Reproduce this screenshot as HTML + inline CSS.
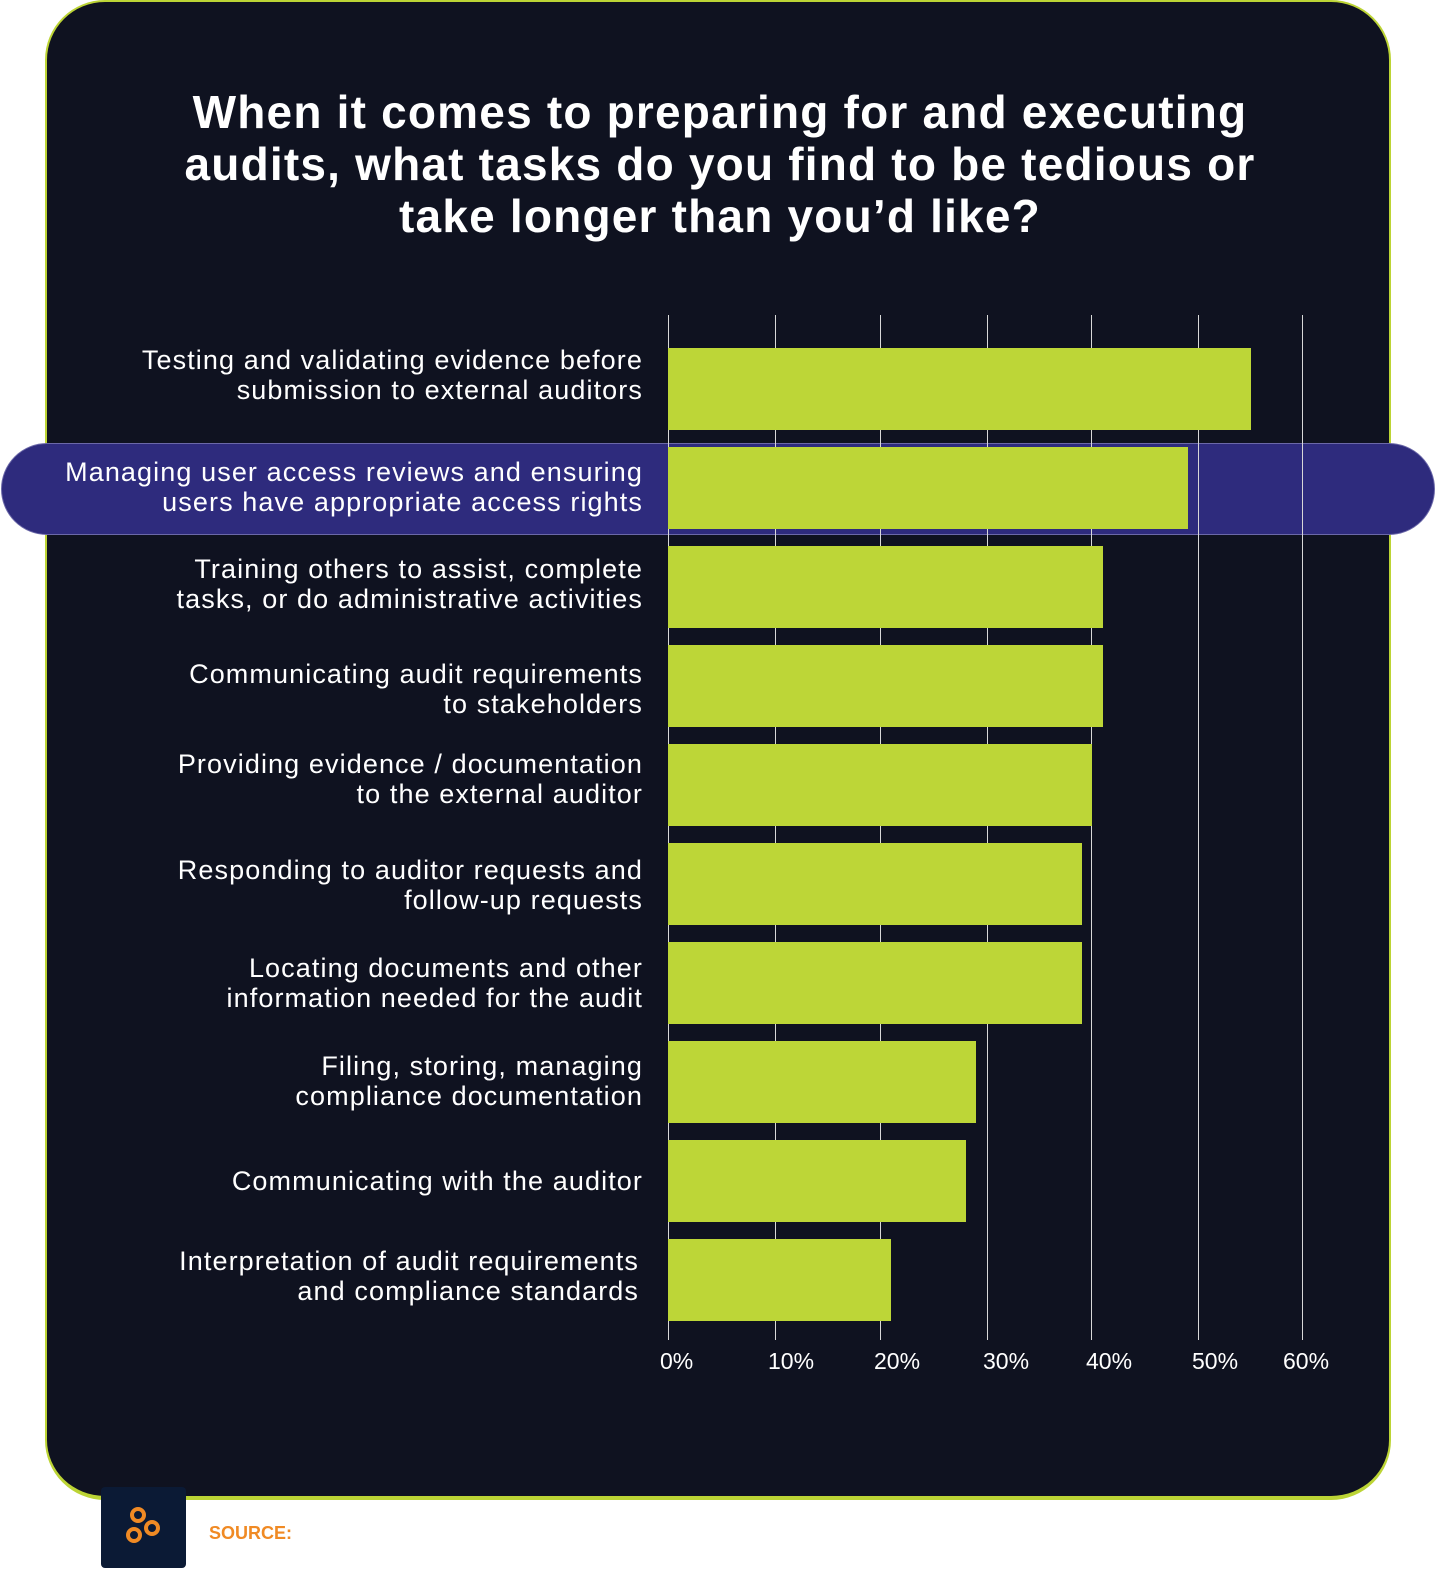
<!DOCTYPE html>
<html><head><meta charset="utf-8"><style>
*{margin:0;padding:0;box-sizing:border-box}
body{width:1440px;height:1573px;background:#fff;position:relative;overflow:hidden;font-family:"Liberation Sans",sans-serif}
.card{position:absolute;left:45px;top:0;width:1346px;height:1500px;background:#0f1220;border:2px solid #bcd435;border-bottom-width:4px;border-radius:60px}
.title{position:absolute;left:0;width:1440px;top:86px;text-align:center;color:#fff;font-weight:bold;font-size:46px;letter-spacing:1.2px;line-height:52px}
.band{position:absolute;left:1px;top:443px;width:1434px;height:92px;background:#2e2b7d;border:1px solid #6b68a8;border-radius:46px}
.g{position:absolute;top:315px;height:1025px;width:1px;background:#d8d8d8}
.bar{position:absolute;left:668px;height:82px;background:#bdd637}
.lab{position:absolute;right:797px;width:640px;text-align:right;color:#fff;font-size:27px;letter-spacing:1.1px;line-height:30px}
.tick{position:absolute;top:1348px;color:#fff;font-size:23px}
</style></head><body>
<div class="card"></div>
<div class="title">When it comes to preparing for and executing<br>audits, what tasks do you find to be tedious or<br>take longer than you’d like?</div>
<div class="band"></div>
<div class="g" style="left:668px"></div><div class="g" style="left:775px"></div><div class="g" style="left:880px"></div><div class="g" style="left:987px"></div><div class="g" style="left:1091px"></div><div class="g" style="left:1198px"></div><div class="g" style="left:1302px"></div>
<div class="bar" style="top:348px;width:583px"></div>
<div class="bar" style="top:447px;width:520px"></div>
<div class="bar" style="top:546px;width:435px"></div>
<div class="bar" style="top:645px;width:435px"></div>
<div class="bar" style="top:744px;width:424px"></div>
<div class="bar" style="top:843px;width:414px"></div>
<div class="bar" style="top:942px;width:414px"></div>
<div class="bar" style="top:1041px;width:308px"></div>
<div class="bar" style="top:1140px;width:298px"></div>
<div class="bar" style="top:1239px;width:223px"></div>
<div class="lab" style="top:345px">Testing and validating evidence before<br>submission to external auditors</div>
<div class="lab" style="top:457px">Managing user access reviews and ensuring<br>users have appropriate access rights</div>
<div class="lab" style="top:554px">Training others to assist, complete<br>tasks, or do administrative activities</div>
<div class="lab" style="top:659px">Communicating audit requirements<br>to stakeholders</div>
<div class="lab" style="top:749px">Providing evidence / documentation<br>to the external auditor</div>
<div class="lab" style="top:855px">Responding to auditor requests and<br>follow-up requests</div>
<div class="lab" style="top:953px">Locating documents and other<br>information needed for the audit</div>
<div class="lab" style="top:1051px">Filing, storing, managing<br>compliance documentation</div>
<div class="lab" style="top:1166px">Communicating with the auditor</div>
<div class="lab" style="top:1246px;right:801px">Interpretation of audit requirements<br>and compliance standards</div>
<div class="tick" style="left:660px">0%</div><div class="tick" style="left:768px">10%</div><div class="tick" style="left:874px">20%</div><div class="tick" style="left:983px">30%</div><div class="tick" style="left:1086px">40%</div><div class="tick" style="left:1192px">50%</div><div class="tick" style="left:1283px">60%</div>
<div style="position:absolute;left:101px;top:1487px;width:85px;height:81px;background:#0b1a35;border-radius:4px"></div>
<svg style="position:absolute;left:120px;top:1503px" width="50" height="50" viewBox="0 0 50 50"><g fill="none" stroke="#f08a24" stroke-width="4"><circle cx="18" cy="12" r="6"/><circle cx="14" cy="32" r="6"/><circle cx="32" cy="25" r="6"/></g></svg>
<div style="position:absolute;left:209px;top:1523px;font-size:18px;color:#f08a24;font-weight:bold">SOURCE: <span style="color:#fff;font-style:italic;font-weight:normal">The 2025 IT Risk and Compliance Benchmark Report</span></div>
<div style="position:absolute;left:1035px;top:1525px;font-size:15px;color:#fff">hyperproof.io/it-compliance-benchmarks</div>
</body></html>
